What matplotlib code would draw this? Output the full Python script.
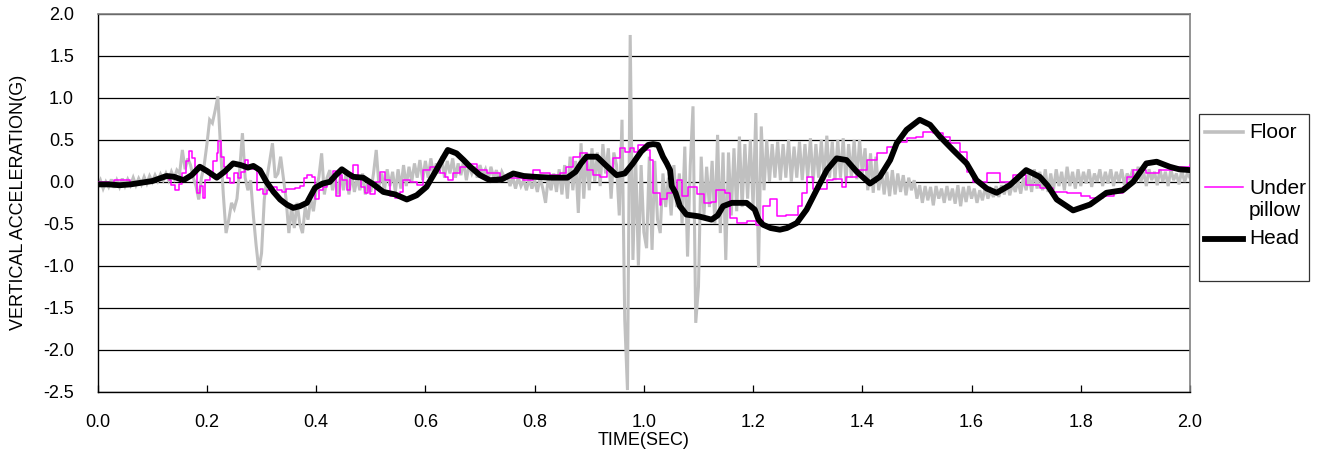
import matplotlib
matplotlib.use("Agg")
import matplotlib.pyplot as plt
import numpy as np
from matplotlib.lines import Line2D
from matplotlib.patches import Rectangle
from matplotlib.ticker import FuncFormatter, MultipleLocator

plt.rcParams["font.family"] = ["Liberation Sans", "DejaVu Sans"]

# ---- data ----
# floor accel sampled every 5 ms, 0.0 .. 2.0 s (one row = 50 ms)
floor_dt = 0.005
floor_g = [
    -0.05, 0.02, -0.08, 0.00, -0.06, 0.03, -0.07, 0.02, -0.06, 0.04,
    -0.05, 0.03, -0.04, 0.05, -0.04, 0.04, -0.03, 0.06, -0.02, 0.07,
    0.00, 0.08, 0.01, 0.09, 0.02, 0.10, 0.02, 0.12, 0.04, 0.14,
    0.10, 0.38, 0.15, 0.28, 0.20, 0.05, -0.05, -0.21, 0.05, 0.20,
    0.45, 0.74, 0.70, 0.85, 1.02, 0.40, -0.15, -0.61, -0.45, -0.25,
    -0.32, -0.20, 0.15, 0.58, 0.05, -0.10, 0.02, -0.40, -0.75, -1.05,
    -0.85, -0.21, 0.05, 0.25, 0.46, 0.05, 0.10, 0.30, 0.05, -0.21,
    -0.61, -0.30, -0.55, -0.25, -0.50, -0.61, -0.30, -0.45, -0.20, -0.35,
    -0.10, 0.06, 0.34, -0.15, 0.05, 0.14, -0.10, 0.05, -0.15, 0.10,
    -0.10, 0.12, -0.15, 0.10, -0.12, 0.05, -0.10, 0.10, -0.15, 0.00,
    -0.12, 0.10, 0.38, -0.05, 0.10, -0.10, 0.15, -0.05, 0.12, -0.12,
    0.15, -0.08, 0.20, -0.05, 0.18, 0.00, 0.22, 0.05, 0.26, 0.02,
    0.25, 0.05, 0.28, 0.08, 0.22, 0.10, 0.30, 0.05, 0.25, 0.10,
    0.28, 0.05, 0.22, 0.08, 0.25, 0.02, 0.20, 0.10, 0.18, 0.05,
    0.20, 0.08, 0.15, 0.02, 0.18, 0.05, 0.14, 0.00, 0.12, 0.05,
    0.08, -0.05, 0.06, -0.08, 0.05, -0.05, 0.02, -0.10, 0.04, -0.08,
    0.02, -0.12, 0.05, -0.08, -0.25, 0.05, -0.10, 0.10, -0.12, 0.15,
    -0.15, 0.20, -0.20, 0.30, -0.10, 0.25, -0.37, 0.46, -0.20, 0.35,
    -0.10, 0.40, 0.00, 0.35, -0.05, 0.45, 0.10, 0.40, -0.20, 0.35,
    0.20, -0.40, 0.74, -1.64, -2.48, 1.75, -0.93, 0.30, -1.00, 0.20,
    -0.60, -0.79, 0.30, -0.81, 0.25, -0.45, -0.61, 0.10, -0.30, 0.05,
    -0.40, 0.20, -0.30, 0.10, -0.50, 0.42, -0.89, 0.20, 0.90, -1.68,
    -1.25, 0.30, -0.40, 0.18, -0.30, 0.25, -0.50, 0.56, -0.61, 0.35,
    -0.93, 0.35, -0.40, 0.40, -0.35, 0.54, -0.30, 0.45, -0.20, 0.50,
    -0.30, 0.82, -1.02, 0.66, -0.10, 0.50, 0.00, 0.45, 0.05, 0.48,
    0.02, 0.45, 0.05, 0.50, 0.00, 0.42, 0.05, 0.48, 0.02, 0.45,
    0.05, 0.52, 0.00, 0.45, 0.05, 0.50, 0.02, 0.55, 0.05, 0.48,
    0.02, 0.50, 0.05, 0.52, 0.00, 0.45, 0.05, 0.50, 0.03, 0.50,
    0.10, 0.40, -0.10, 0.34, -0.13, 0.30, -0.10, 0.14, -0.15, 0.12,
    -0.17, 0.14, -0.15, 0.10, -0.12, 0.08, -0.16, 0.05, -0.10, 0.02,
    -0.20, -0.04, -0.25, -0.05, -0.22, -0.06, -0.28, -0.05, -0.20, -0.08,
    -0.25, -0.05, -0.22, -0.08, -0.26, -0.04, -0.29, -0.06, -0.24, -0.05,
    -0.20, -0.08, -0.25, -0.10, -0.22, -0.06, -0.20, -0.10, -0.18, -0.05,
    -0.18, -0.04, -0.15, 0.00, -0.16, -0.02, -0.12, 0.02, -0.14, 0.05,
    -0.10, 0.10, -0.12, 0.15, -0.08, 0.12, -0.10, 0.15, -0.12, 0.10,
    -0.10, 0.15, -0.05, 0.12, -0.10, 0.18, -0.05, 0.12, -0.08, 0.15,
    -0.05, 0.12, -0.02, 0.15, -0.06, 0.10, 0.00, 0.15, -0.05, 0.12,
    -0.02, 0.15, -0.05, 0.12, 0.00, 0.15, -0.04, 0.10, 0.02, 0.15,
    -0.02, 0.18, 0.00, 0.12, -0.05, 0.15, 0.02, 0.12, -0.04, 0.15,
    0.00, 0.12, -0.05, 0.15, 0.02, 0.10, -0.03, 0.14, 0.00, 0.10,
    0.05,
]

pillow_t = [
    0.00, 0.02, 0.03, 0.05, 0.06, 0.08, 0.10, 0.12, 0.13, 0.135, 0.142, 0.148,
    0.155, 0.162, 0.167, 0.173, 0.178, 0.181, 0.187, 0.193, 0.197, 0.205, 0.212,
    0.218, 0.221, 0.226, 0.232, 0.237, 0.242, 0.250, 0.256, 0.262, 0.270, 0.276,
    0.283, 0.291, 0.297, 0.303, 0.310, 0.318, 0.328, 0.337, 0.345, 0.352, 0.361,
    0.370, 0.377, 0.383, 0.392, 0.398, 0.405, 0.413, 0.420, 0.425, 0.431, 0.437,
    0.443, 0.447, 0.456, 0.462, 0.468, 0.474, 0.477, 0.483, 0.489, 0.495, 0.498,
    0.507, 0.517, 0.526, 0.535, 0.544, 0.553, 0.559, 0.572, 0.584, 0.596, 0.608,
    0.620, 0.627, 0.636, 0.641, 0.651, 0.663, 0.676, 0.694, 0.712, 0.737, 0.755,
    0.779, 0.797, 0.810, 0.828, 0.846, 0.858, 0.870, 0.883, 0.895, 0.907, 0.920,
    0.932, 0.944, 0.957, 0.965, 0.975, 0.982, 0.990, 1.000, 1.011, 1.017, 1.029,
    1.032, 1.042, 1.051, 1.060, 1.069, 1.080, 1.097, 1.111, 1.123, 1.133, 1.149,
    1.158, 1.170, 1.188, 1.206, 1.218, 1.231, 1.243, 1.261, 1.275, 1.283, 1.290,
    1.298, 1.310, 1.335, 1.347, 1.362, 1.371, 1.390, 1.408, 1.426, 1.445, 1.463,
    1.481, 1.499, 1.511, 1.529, 1.548, 1.560, 1.578, 1.591, 1.603, 1.628, 1.652,
    1.676, 1.700, 1.725, 1.750, 1.774, 1.800, 1.817, 1.840, 1.860, 1.877, 1.884,
    1.896, 1.920, 1.944, 1.975, 2.000,
]
pillow_g = [
    0.00, -0.02, 0.02, 0.02, -0.02, 0.00, 0.03, 0.05, 0.02, -0.04, -0.10, -0.02,
    0.10, 0.25, 0.37, 0.28, 0.10, -0.13, -0.05, -0.19, 0.02, 0.10, 0.25,
    0.34, 0.49, 0.30, 0.18, 0.05, -0.01, 0.10, 0.05, 0.12, 0.26, 0.18,
    0.15, -0.10, -0.08, -0.15, -0.10, -0.06, -0.10, -0.12, -0.08, -0.09, -0.07,
    -0.05, 0.05, 0.08, 0.06, -0.21, -0.10, -0.06, 0.00, 0.05, 0.13, -0.17,
    0.08, 0.02, -0.10, 0.05, 0.20, 0.20, 0.06, -0.06, -0.13, -0.01, -0.15,
    0.00, 0.12, 0.02, -0.17, -0.19, -0.12, 0.02, 0.00, -0.04, 0.14, 0.18,
    0.14, 0.10, 0.06, 0.02, 0.10, 0.18, 0.21, 0.14, 0.10, 0.06, 0.05,
    0.02, 0.14, 0.10, 0.08, 0.10, 0.18, 0.30, 0.34, 0.14, 0.08, 0.06,
    0.14, 0.28, 0.40, 0.36, 0.40, 0.35, 0.44, 0.38, 0.26, -0.13, -0.27,
    -0.20, -0.13, -0.10, 0.02, -0.17, -0.06, -0.15, -0.25, -0.24, -0.10, -0.13,
    -0.43, -0.49, -0.47, -0.51, -0.29, -0.21, -0.41, -0.39, -0.40, -0.29, -0.13,
    0.06, -0.08, 0.02, 0.03, -0.06, 0.06, 0.14, 0.26, 0.34, 0.42, 0.48,
    0.52, 0.54, 0.60, 0.58, 0.54, 0.46, 0.36, 0.12, 0.00, 0.10, 0.00,
    0.08, -0.04, -0.07, -0.12, -0.13, -0.17, -0.19, -0.17, -0.13, -0.06, 0.06,
    0.14, 0.10, 0.14, 0.18, 0.20,
]

head_t = [
    0.00, 0.02, 0.04, 0.06, 0.08, 0.10, 0.126, 0.14, 0.157, 0.172, 0.187, 0.20,
    0.218, 0.232, 0.248, 0.262, 0.275, 0.285, 0.297, 0.309, 0.322, 0.334, 0.346,
    0.358, 0.370, 0.383, 0.398, 0.412, 0.425, 0.436, 0.447, 0.458, 0.468, 0.486,
    0.505, 0.523, 0.545, 0.566, 0.584, 0.602, 0.620, 0.632, 0.641, 0.657, 0.670,
    0.682, 0.700, 0.718, 0.740, 0.761, 0.780, 0.800, 0.830, 0.860, 0.875, 0.885,
    0.895, 0.914, 0.930, 0.950, 0.965, 0.980, 0.995, 1.008, 1.017, 1.026, 1.035,
    1.042, 1.048, 1.051, 1.058, 1.066, 1.078, 1.100, 1.124, 1.135, 1.145, 1.161,
    1.175, 1.188, 1.203, 1.210, 1.218, 1.232, 1.249, 1.262, 1.280, 1.298, 1.316,
    1.335, 1.353, 1.371, 1.390, 1.414, 1.432, 1.451, 1.463, 1.481, 1.505, 1.524,
    1.542, 1.566, 1.591, 1.609, 1.628, 1.646, 1.670, 1.700, 1.725, 1.740, 1.756,
    1.786, 1.817, 1.847, 1.877, 1.896, 1.920, 1.939, 1.963, 1.980, 2.000,
]
head_g = [
    -0.03, -0.03, -0.04, -0.03, -0.01, 0.01, 0.07, 0.06, 0.02, 0.08, 0.18, 0.13,
    0.05, 0.12, 0.22, 0.20, 0.17, 0.19, 0.14, 0.00, -0.12, -0.21, -0.27,
    -0.31, -0.29, -0.25, -0.07, -0.02, 0.00, 0.08, 0.15, 0.10, 0.06, 0.05,
    -0.03, -0.12, -0.15, -0.21, -0.16, -0.06, 0.14, 0.28, 0.38, 0.34, 0.26,
    0.18, 0.08, 0.02, 0.03, 0.10, 0.07, 0.06, 0.05, 0.05, 0.12, 0.22,
    0.30, 0.30, 0.20, 0.08, 0.10, 0.22, 0.36, 0.44, 0.45, 0.44, 0.30,
    0.22, 0.14, -0.05, -0.13, -0.29, -0.39, -0.41, -0.45, -0.40, -0.29, -0.25,
    -0.25, -0.25, -0.33, -0.45, -0.51, -0.55, -0.57, -0.55, -0.49, -0.33, -0.10,
    0.14, 0.28, 0.26, 0.12, -0.02, 0.06, 0.26, 0.46, 0.62, 0.74, 0.68,
    0.54, 0.38, 0.22, 0.02, -0.08, -0.13, -0.04, 0.14, 0.06, -0.05, -0.21,
    -0.34, -0.27, -0.13, -0.10, 0.00, 0.22, 0.24, 0.18, 0.15, 0.14,
]

y_ticks = [-2.5, -2.0, -1.5, -1.0, -0.5, 0.0, 0.5, 1.0, 1.5, 2.0]

FLOOR_C = "#c0c0c0"
PILLOW_C = "#ff00ff"
HEAD_C = "#000000"
FS = 13
LEG_FS = 15

W, H = 1324, 457
fig = plt.figure(figsize=(W / 100, H / 100), dpi=100)
ax = fig.add_axes([97.7 / W, 1 - 391.7 / H, (1190 - 97.7) / W, (391.7 - 14) / H])

floor_t = np.arange(len(floor_g)) * floor_dt
ax.plot(floor_t, floor_g, color=FLOOR_C, lw=2.2, solid_joinstyle="miter", zorder=2)
ax.plot(pillow_t, pillow_g, color=PILLOW_C, lw=1.1, drawstyle="steps-post", zorder=3)
ax.plot(head_t, head_g, color=HEAD_C, lw=4.2, solid_capstyle="round", zorder=4)

ax.set_xlim(0, 2.0)
ax.set_ylim(y_ticks[0], y_ticks[-1])
ax.xaxis.set_major_locator(MultipleLocator(0.2))
ax.set_yticks(y_ticks)
fmt = FuncFormatter(lambda v, _: f"{v:.1f}")
ax.xaxis.set_major_formatter(fmt)
ax.yaxis.set_major_formatter(fmt)

ax.yaxis.grid(True, color="black", lw=0.9)
ax.set_axisbelow(True)
ax.tick_params(axis="x", direction="in", length=5, width=0.9, color="black",
               labelsize=FS, pad=16)
ax.tick_params(axis="y", length=0, labelsize=FS, pad=17)

for side in ("left", "bottom"):
    ax.spines[side].set_color("black")
    ax.spines[side].set_linewidth(1.0)
for side in ("top", "right"):
    ax.spines[side].set_color("#808080")
    ax.spines[side].set_linewidth(1.2)

ax.set_xlabel("TIME(SEC)", fontsize=FS, labelpad=1)
ax.set_ylabel("VERTICAL ACCELERATION(G)", fontsize=FS, labelpad=12)

# ---- legend box (excel style, handle aligned to first text line) ----
def fx(px):
    return px / W


def fy(py):
    return 1 - py / H


fig.add_artist(Rectangle((fx(1199), fy(281)), fx(1309) - fx(1199), fy(114) - fy(281),
                         transform=fig.transFigure, fill=False, edgecolor="#333333", lw=0.9))
entries = [
    (132, FLOOR_C, 2.6, "Floor"),
    (187, PILLOW_C, 1.1, "Under\npillow"),
    (239, HEAD_C, 4.2, "Head"),
]
for py, col, lw, lab in entries:
    fig.add_artist(Line2D([fx(1205), fx(1243)], [fy(py), fy(py)], color=col, lw=lw,
                          transform=fig.transFigure))
    nl = lab.count("\n")
    fig.text(fx(1249), fy(py + nl * 12.5), lab, fontsize=LEG_FS, va="center", ha="left",
             linespacing=1.2)

fig.savefig("out.png", dpi=100)
